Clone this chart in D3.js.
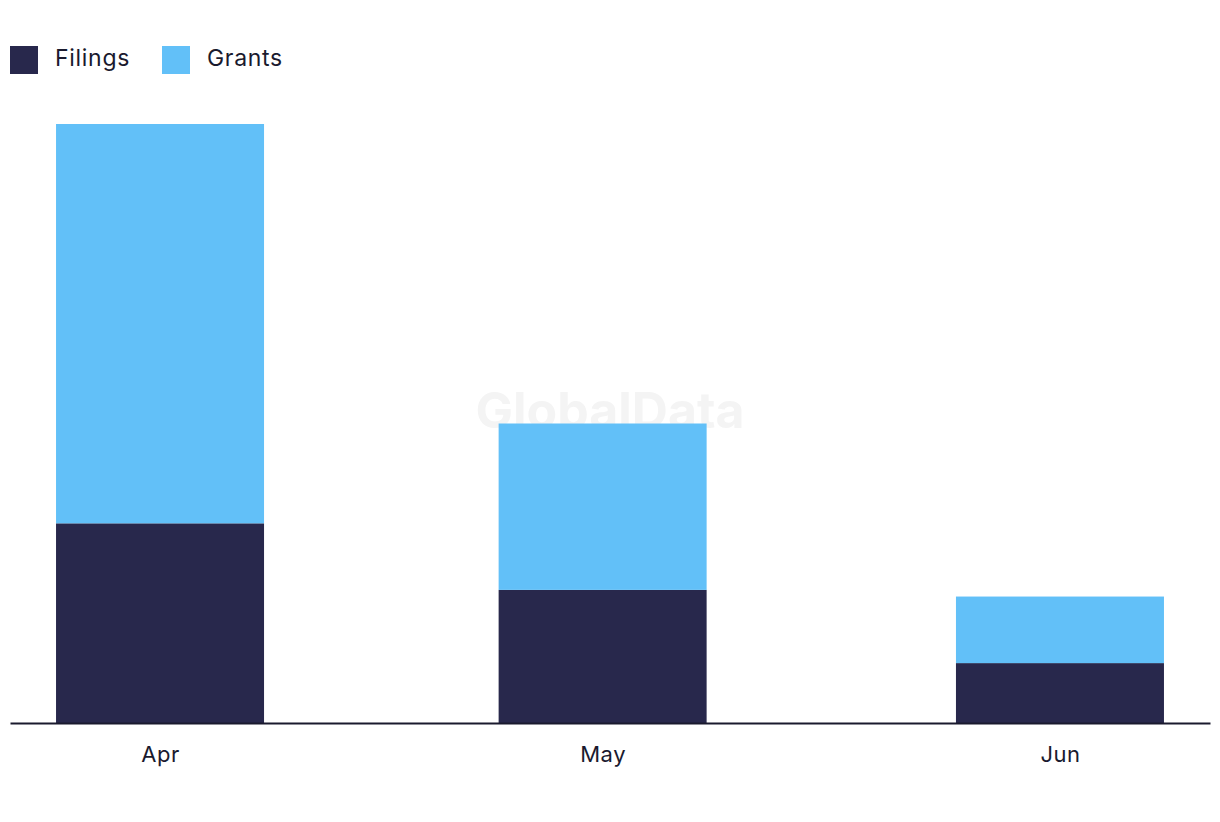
<!DOCTYPE html>
<html><head><meta charset="utf-8">
<script src="https://cdn.jsdelivr.net/npm/d3@7"></script>
<style>body{margin:0;background:#fff;} svg{display:block;font-family:Inter,"Noto Sans",sans-serif;}</style>
</head><body>
<svg id="c" width="1220" height="822"></svg>
<script>
const months = ["2024-04-01","2024-05-01","2024-06-01"];
const monthLabels = ["Apr","May","Jun"];
const filings = [30, 20, 9];
const grants = [60, 25, 10];
const seriesNames = ["Filings","Grants"];
const colors = ["#28284c","#62c0f8"];

const svg = d3.select("#c");
const parse = d3.utcParse("%Y-%m-%d");
const dates = months.map(parse);
const day = 86400000;
const pad = 10.17 * day;
const x = d3.scaleUtc().domain([new Date(+dates[0] - pad), new Date(+dates[2] + pad)]).range([10, 1210]);
const y = d3.scaleLinear().domain([0, 90]).range([723, 124]);
const barW = 208;

// watermark
svg.append("text").attr("x", 610).attr("y", 428).attr("text-anchor","middle")
  .attr("font-size", 50).attr("font-weight", 700).attr("fill", "#f4f4f4")
  .attr("font-family", "Inter, sans-serif").text("GlobalData");

const data = dates.map((d,i)=>({date:d, Filings:filings[i], Grants:grants[i]}));
const stack = d3.stack().keys(seriesNames)(data);
svg.append("g").selectAll("g").data(stack).join("g").attr("fill",(d,i)=>colors[i])
  .selectAll("rect").data(d=>d).join("rect")
  .attr("x", d=>x(d.data.date)-barW/2).attr("width", barW)
  .attr("y", d=>y(d[1])).attr("height", d=>y(d[0])-y(d[1]));

// axis
const ax = svg.append("g").attr("transform","translate(0,723)")
  .call(d3.axisBottom(x).tickValues(dates).tickSize(0).tickPadding(23).tickFormat((d,i)=>monthLabels[i]));
ax.select(".domain").attr("stroke","#1a1a2e").attr("stroke-width",2);
ax.selectAll("text").attr("font-size",22).attr("letter-spacing",0.5).attr("fill","#1a1a2e").attr("font-family","Inter, sans-serif");

// legend
const legX = [10, 162];
const lg = svg.append("g");
seriesNames.forEach((n,i)=>{
  lg.append("rect").attr("x",legX[i]).attr("y",46).attr("width",28).attr("height",28).attr("fill",colors[i]);
  lg.append("text").attr("x",legX[i]+45).attr("y",58).attr("dy","0.35em").attr("font-size",23)
    .attr("letter-spacing",0.7).attr("fill","#1a1a2e").text(n);
});
</script>
</body></html>
